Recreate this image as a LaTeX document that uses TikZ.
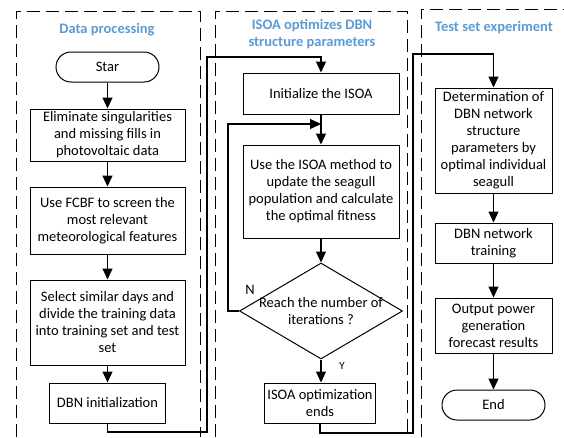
\documentclass[tikz,border=0pt]{standalone}
\usepackage{fontspec}
\setmainfont{Carlito}
\usetikzlibrary{shapes.geometric}
\usetikzlibrary{arrows.meta}
\definecolor{titleblue}{RGB}{91,155,213}
\tikzset{
        boxnode/.style={align=center,inner sep=1pt,font=\fontsize{14.5}{17}\selectfont},
        % Process steps
        node_process/.style={boxnode, rectangle, draw=black, line width=1pt},
        % Start and end
        node_terminal/.style={boxnode, rectangle, rounded corners=15pt, draw=black, line width=1pt, minimum height=30pt},
        % Decision
        node_decision/.style={boxnode, diamond, draw=black, line width=1pt, inner sep=0pt},
        % Panel titles
        node_title/.style={align=center, inner sep=0pt, text=titleblue, font=\fontsize{14.5}{17}\selectfont\bfseries},
        % Dashed frames
        panel_frame/.style={draw=black, line width=0.9pt, dash pattern=on 13pt off 6pt},
        % Flow lines
        flow/.style={line width=1.2pt, -{Triangle[length=11pt,width=10pt]}}
}
\begin{document}
\begin{tikzpicture}[x=1pt, y=-1pt]
    \useasboundingbox (0,0) rectangle (564,437);
    % frames
    \draw[panel_frame] (16,437) -- (16,11) -- (200,11) -- (200,437);
    \draw[panel_frame] (215,437) -- (215,11) -- (407,11) -- (407,437);
    \draw[panel_frame] (421,437) -- (421,9) -- (564,9);
    % titles
    \node[node_title] (title1) at (107,30) {Data processing};
    \node[node_title] (title2) at (312,34) {ISOA optimizes DBN\\structure parameters};
    \node[node_title] (title3) at (494,28) {Test set experiment};
    % data processing
    \node[node_terminal, minimum width=103pt] (star) at (107.5,67) {Star};
    \node[node_process, minimum width=155pt, minimum height=52pt] (clean) at (107.5,135) {Eliminate singularities\\and missing fills in\\photovoltaic data};
    \node[node_process, minimum width=155pt, minimum height=67pt] (fcbf) at (107.5,220.5) {Use FCBF to screen the\\most relevant\\meteorological features};
    \node[node_process, minimum width=155pt, minimum height=85pt] (select) at (107.5,322.5) {Select similar days and\\divide the training data\\into training set and test\\set};
    \node[node_process, minimum width=116pt, minimum height=40pt] (dbninit) at (107.5,403) {DBN initialization};
    % ISOA
    \node[node_process, minimum width=156pt, minimum height=41pt] (init) at (321,93.5) {Initialize the ISOA};
    \node[node_process, minimum width=156pt, minimum height=93pt] (update) at (321,191.5) {Use the ISOA method to\\update the seagull\\population and calculate\\the optimal fitness};
    \node[node_decision, minimum width=163pt, minimum height=96pt,
          label={[boxnode]center:Reach the number of\\iterations ?}] (check) at (321,311) {};
    \node[node_process, minimum width=111pt, minimum height=40pt] (ends) at (320,403) {ISOA optimization\\ends};
    \node[boxnode] (nlabel) at (250,290) {N};
    \node[boxnode, font=\fontsize{11}{13}\selectfont] (ylabel) at (342,366) {Y};
    % test set
    \node[node_process, minimum width=117pt, minimum height=105pt] (determ) at (493.5,140.5) {Determination of\\DBN network\\structure\\parameters by\\optimal individual\\seagull};
    \node[node_process, minimum width=117pt, minimum height=40pt] (train) at (493.5,243) {DBN network\\training};
    \node[node_process, minimum width=117pt, minimum height=55pt] (output) at (493.5,325.5) {Output power\\generation\\forecast results};
    \node[node_terminal, minimum width=103pt] (finish) at (493.5,405) {End};
    % turning points
    \coordinate (link1a) at (207,432);
    \coordinate (link1b) at (207,57);
    \coordinate (link2a) at (413,433);
    \coordinate (link2b) at (413,54);
    \coordinate (loop) at (228,124);
    % flow
    \draw[flow] (star) -- (clean);
    \draw[flow] (clean) -- (fcbf);
    \draw[flow] (fcbf) -- (select);
    \draw[flow] (select) -- (dbninit);
    \draw[flow] (dbninit.south) |- (link1a) -- (link1b) -| (init.north);
    \draw[flow] (init) -- (update);
    \draw[flow] (update) -- (check);
    \draw[flow] (check.west) -| (loop) -- (loop -| init.south);
    \draw[flow] (check.south) -- (check.south |- ends.north);
    \draw[flow] (ends.south) |- (link2a) -- (link2b) -| (determ.north);
    \draw[flow] (determ) -- (train);
    \draw[flow] (train) -- (output);
    \draw[flow] (output) -- (finish);
\end{tikzpicture}
\end{document}
